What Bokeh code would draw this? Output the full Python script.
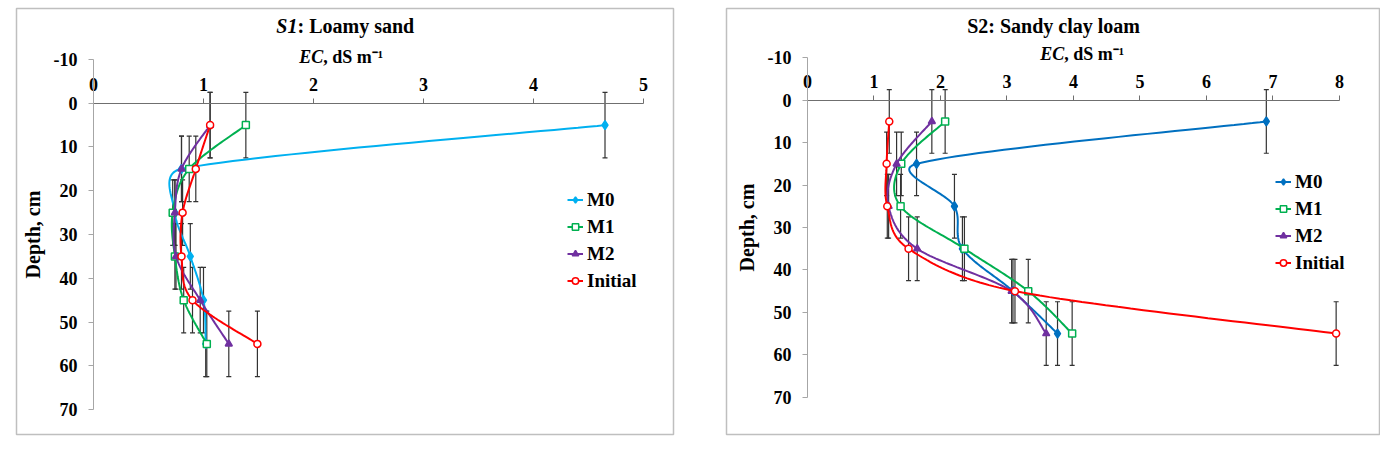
import numpy as np
from bokeh.plotting import figure
from bokeh.models import (Range1d, LinearAxis, FixedTicker, Whisker, ColumnDataSource,
                          Label, Legend, LegendItem, TeeHead)
from bokeh.layouts import row
from bokeh.embed import file_html
from bokeh.resources import INLINE

# ---------------- data ----------------
depth = [5, 15, 25, 35, 45, 55]
depth_err = 7.5
series_names = ["M0", "M1", "M2", "Initial"]

s1_m0 = [4.65, 0.80, 0.74, 0.88, 1.00, 1.02]
s1_m1 = [1.385, 0.87, 0.72, 0.74, 0.82, 1.03]
s1_m2 = [1.06, 0.80, 0.74, 0.75, 0.97, 1.23]
s1_initial = [1.06, 0.93, 0.81, 0.80, 0.90, 1.49]

s2_m0 = [6.90, 1.64, 2.21, 2.33, 3.09, 3.76]
s2_m1 = [2.07, 1.41, 1.40, 2.36, 3.32, 3.98]
s2_m2 = [1.87, 1.34, 1.22, 1.65, 3.07, 3.59]
s2_initial = [1.23, 1.19, 1.20, 1.52, 3.12, 7.95]

s1_x_ticks = [0, 1, 2, 3, 4, 5]
s1_x_tick_labels = ["0", "1", "2", "3", "4", "5"]
s2_x_ticks = [0, 1, 2, 3, 4, 5, 6, 7, 8]
s2_x_tick_labels = ["0", "1", "2", "3", "4", "5", "6", "7", "8"]
y_ticks = [-10, 0, 10, 20, 30, 40, 50, 60, 70]
y_tick_labels = ["-10", "0", "10", "20", "30", "40", "50", "60", "70"]

FONT = "Liberation Serif"


def smooth(xs, ys, sx, sy, n=30):
    """Excel-like smoothed line (Bezier through the points), computed in pixel space."""
    P = np.column_stack([np.asarray(xs, float) * sx, np.asarray(ys, float) * sy])
    m = len(P)
    out = [P[0]]
    for i in range(m - 1):
        p0 = P[max(i - 1, 0)]
        p1 = P[i]
        p2 = P[i + 1]
        p3 = P[min(i + 2, m - 1)]
        seg = np.linalg.norm(p2 - p1)

        def ctrl(t):
            L = np.linalg.norm(t)
            if L == 0:
                return np.zeros(2)
            return t / L * min(L / 6.0, 0.5 * seg)

        c1 = p1 + ctrl(p2 - p0)
        c2 = p2 - ctrl(p3 - p1)
        for k in range(1, n + 1):
            u = k / n
            out.append((1 - u) ** 3 * p1 + 3 * (1 - u) ** 2 * u * c1
                       + 3 * (1 - u) * u ** 2 * c2 + u ** 3 * p2)
    out = np.array(out)
    return out[:, 0] / sx, out[:, 1] / sy


def make_panel(series, colors, x_range, y_range, sx, sy, x_ticks, x_labels, x_bound,
               frame_w, min_left, min_right, legend_loc, title_parts, ec_split, ec_y):
    p = figure(frame_width=frame_w, frame_height=426,
               x_range=Range1d(*x_range), y_range=Range1d(*y_range),
               x_axis_type=None, y_axis_type=None, title=None,
               output_backend="svg", toolbar_location=None,
               min_border_left=min_left, min_border_right=min_right,
               min_border_top=8, min_border_bottom=4)
    p.outline_line_color = "#bfbfbf"
    p.outline_line_width = 1.5
    p.background_fill_color = "white"
    p.border_fill_color = "white"

    # axes
    xa = LinearAxis(fixed_location=0, bounds=(0, x_bound), ticker=FixedTicker(ticks=x_ticks))
    xa.major_label_overrides = {t: l for t, l in zip(x_ticks, x_labels)}
    xa.axis_line_color = "#6f6f6f"
    xa.major_tick_line_color = "#6f6f6f"
    xa.major_tick_out = 5
    xa.major_tick_in = 0
    xa.minor_tick_out = 0
    xa.minor_tick_in = 0
    xa.major_label_standoff = 7
    xa.major_label_text_font = FONT
    xa.major_label_text_font_style = "bold"
    xa.major_label_text_font_size = "18px"
    xa.major_label_text_color = "black"
    p.add_layout(xa, "above")

    ya = LinearAxis(fixed_location=0, bounds=(-10, 70), ticker=FixedTicker(ticks=y_ticks))
    ya.major_label_overrides = {t: l for t, l in zip(y_ticks, y_tick_labels)}
    ya.axis_line_color = "#a6a6a6"
    ya.major_tick_line_color = "#a6a6a6"
    ya.major_tick_out = 5
    ya.major_tick_in = 0
    ya.minor_tick_out = 0
    ya.minor_tick_in = 0
    ya.major_label_standoff = 11
    ya.major_label_text_font = FONT
    ya.major_label_text_font_style = "bold"
    ya.major_label_text_font_size = "18px"
    ya.major_label_text_color = "black"
    ya.axis_label = "Depth, cm"
    ya.axis_label_text_font = FONT
    ya.axis_label_text_font_style = "bold"
    ya.axis_label_text_font_size = "20px"
    ya.axis_label_text_color = "black"
    ya.axis_label_standoff = 7
    p.add_layout(ya, "left")

    markers = ["diamond", "square", "triangle", "circle"]
    msizes = [9, 7, 7, 7]
    fills = [None, "white", None, "white"]
    items = []
    for (name, xs), col, mk, ms, fc in zip(series, colors, markers, msizes, fills):
        src = ColumnDataSource(dict(x=xs, y=depth,
                                    lower=[d - depth_err for d in depth],
                                    upper=[d + depth_err for d in depth]))
        w = Whisker(base="x", lower="lower", upper="upper", dimension="height", source=src,
                    line_color="#333333", line_width=1.2,
                    upper_head=TeeHead(size=5, line_color="#333333", line_width=1.2),
                    lower_head=TeeHead(size=5, line_color="#333333", line_width=1.2))
        p.add_layout(w)
        cx, cy = smooth(xs, depth, sx, sy)
        lr = p.line(cx, cy, line_color=col, line_width=2)
        sr = p.scatter("x", "y", source=src, marker=mk, size=ms, line_color=col,
                       line_width=1.5, fill_color=(fc if fc else col))
        items.append(LegendItem(label=name, renderers=[lr, sr]))

    leg = Legend(items=items, location=legend_loc, padding=0, margin=0, spacing=0,
                 glyph_width=16, glyph_height=27, label_height=27, label_standoff=4,
                 border_line_alpha=0, background_fill_alpha=0,
                 label_text_font=FONT, label_text_font_style="bold",
                 label_text_font_size="19px", label_text_color="black")
    p.add_layout(leg)

    # title (mixed styles)
    (t_italic, t_rest, t_x, t_y) = title_parts
    if t_italic:
        p.add_layout(Label(x=t_x, y=t_y, text=t_italic, text_align="right", text_baseline="middle",
                           text_font=FONT, text_font_style="bold italic", text_font_size="20px",
                           text_color="black"))
        p.add_layout(Label(x=t_x, y=t_y, text=t_rest, text_align="left", text_baseline="middle",
                           text_font=FONT, text_font_style="bold", text_font_size="20px",
                           text_color="black"))
    else:
        p.add_layout(Label(x=t_x, y=t_y, text=t_rest, text_align="center", text_baseline="middle",
                           text_font=FONT, text_font_style="bold", text_font_size="20px",
                           text_color="black"))
    # x-axis title: "EC, dS m⁻¹"
    p.add_layout(Label(x=ec_split, y=ec_y, text="EC", text_align="right", text_baseline="middle",
                       text_font=FONT, text_font_style="bold italic", text_font_size="18px",
                       text_color="black"))
    p.add_layout(Label(x=ec_split, y=ec_y, text=", dS m\u207b\u00b9", text_align="left",
                       text_baseline="middle", text_font=FONT, text_font_style="bold",
                       text_font_size="18px", text_color="black"))
    return p


# ---------------- panel S1 ----------------
sx1, sy1 = 110.0, 4.375
p1 = make_panel(
    series=list(zip(series_names, [s1_m0, s1_m1, s1_m2, s1_initial])),
    colors=["#00B0F0", "#00B050", "#7030A0", "#FF0000"],
    x_range=(-0.7, 5.2727), y_range=(75.714, -21.657), sx=sx1, sy=sy1,
    x_ticks=s1_x_ticks, x_labels=s1_x_tick_labels, x_bound=5,
    frame_w=657, min_left=16, min_right=26,
    legend_loc=(551, 140),
    title_parts=("S1", ": Loamy sand", 1.8545, -17.77),
    ec_split=2.088, ec_y=-10.46)

# ---------------- panel S2 ----------------
sx2, sy2 = 66.5, 4.2425
p2 = make_panel(
    series=list(zip(series_names, [s2_m0, s2_m1, s2_m2, s2_initial])),
    colors=["#0070C0", "#00B050", "#7030A0", "#FF0000"],
    x_range=(-1.218, 8.602), y_range=(78.79, -21.62), sx=sx2, sy=sy2,
    x_ticks=s2_x_ticks, x_labels=s2_x_tick_labels, x_bound=8,
    frame_w=653, min_left=27, min_right=1,
    legend_loc=(549, 158),
    title_parts=(None, "S2: Sandy clay loam", 3.70, -17.61),
    ec_split=3.86, ec_y=-11.0)

layout = row(p1, p2)
open("out.html", "w").write(file_html(layout, INLINE))
